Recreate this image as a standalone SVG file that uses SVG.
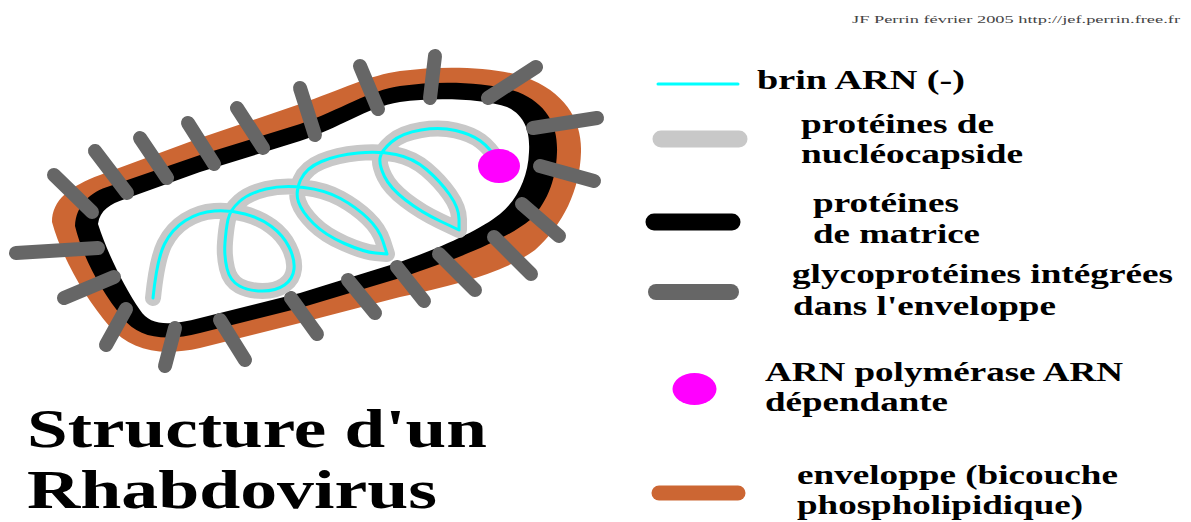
<svg xmlns="http://www.w3.org/2000/svg" xmlns:xlink="http://www.w3.org/1999/xlink" width="1191" height="522" viewBox="0 0 1191 522">
  <style>
    .env { fill: #cc6633; }
    .mat { fill: #000000; }
    .core { fill: #ffffff; }
    .spike { stroke: #666666; stroke-width: 14; stroke-linecap: round; fill: none; }
    .caps { stroke: #c8c8c8; stroke-width: 16; stroke-linecap: round; stroke-linejoin: round; fill: none; }
    .rna { stroke: #00ffff; stroke-width: 3; stroke-linecap: round; stroke-linejoin: round; fill: none; }
    .pol { fill: #ff00ff; }
    .key { stroke-linecap: round; fill: none; }
    .lbl { font-family: "Liberation Serif", "Times New Roman", serif; font-weight: bold; font-size: 28px; fill: #000000; }
    .title { font-family: "Liberation Serif", "Times New Roman", serif; font-weight: bold; font-size: 54px; fill: #000000; }
    .credit { font-family: "Liberation Serif", "Times New Roman", serif; font-size: 11px; fill: #444444; }
  </style>
  <defs>
    <!-- coiled nucleocapsid centre line -->
    <path id="coil" d="M153,298 Q157,259 164.5,244 Q172,229 185.5,220.5 Q199,212 214.5,211 Q230,210 245,214 Q260,218 271.5,226.5 Q283,235 289,247 Q295,259 294,269 Q293,279 284.5,285 Q276,291 262.5,291 Q249,291 239.5,286 Q230,281 227,268.5 Q224,256 225,242.5 Q226,229 228,219.5 Q230,210 239.5,201.5 Q249,193 266,189 Q283,185 304,187.5 Q325,190 340.5,198.5 Q356,207 367.5,218 Q379,229 383,241.5 L387,254 L375.5,253 Q364,252 344.5,243.5 Q325,235 313.5,223.5 Q302,212 298.5,202 Q295,192 300.5,180 Q306,168 321.5,161.5 Q337,155 358,153 Q379,151 396,154.5 Q413,158 426.5,169.5 Q440,181 449.5,194.5 Q459,208 459,219 L459,230 L440,221 Q421,212 405.5,200 Q390,188 384.5,176.5 Q379,165 380,158 Q381,151 391.5,142 Q402,133 421,130 Q440,127 455.5,130.5 Q471,134 480.5,141 Q490,148 498,161"/>
  </defs>

  <rect width="1191" height="522" fill="#ffffff"/>

  <!-- virion -->
  <g id="virion">
    <path id="envelope" class="env" d="M52,222 C52,200 70,186 100,175 L200,138 L300,104 C340,90 370,75 400,71 C445,65 495,67 525,77 C565,92 582,120 581,152 C580,190 563,225 535,250 C505,272 460,284 400,297 L300,323 L200,348 C160,357 130,350 110,327 C85,298 62,258 52,222 Z"/>
    <path id="matrix" class="mat" d="M75,226 C76,205 90,192 110,186 L200,155 L300,124 C340,110 370,90 400,86 C440,80 490,82 518,92 C547,104 558,125 557,152 C556,183 545,205 530,220 C505,240 460,258 400,278 L300,308 L200,333 C165,342 138,338 123,318 C100,290 82,255 75,226 Z"/>
    <path id="interior" class="core" d="M98,224 C100,210 110,204 125,199 L200,172 L300,141 C340,128 365,108 400,102 C435,97 485,99 507,107 C527,116 530,135 529,152 C528,178 517,200 500,214 C480,230 440,248 400,262 L300,293 L200,318 C170,326 150,326 140,310 C125,288 108,255 98,224 Z"/>
    <g id="glycoproteins" class="spike">
      <line x1="54" y1="175" x2="92" y2="212"/>
      <line x1="95" y1="151" x2="127" y2="193"/>
      <line x1="140" y1="138" x2="167" y2="178"/>
      <line x1="188" y1="123" x2="214" y2="164"/>
      <line x1="237" y1="108" x2="263" y2="148"/>
      <line x1="300" y1="88" x2="315" y2="135"/>
      <line x1="360" y1="66" x2="378" y2="109"/>
      <line x1="435" y1="56" x2="430" y2="98"/>
      <line x1="536" y1="67" x2="488" y2="98"/>
      <line x1="597" y1="118" x2="533" y2="128"/>
      <line x1="594" y1="181" x2="540" y2="166"/>
      <line x1="559" y1="236" x2="522" y2="204"/>
      <line x1="531" y1="274" x2="494" y2="237"/>
      <line x1="475" y1="290" x2="439" y2="254"/>
      <line x1="424" y1="301" x2="397" y2="267"/>
      <line x1="375" y1="313" x2="348" y2="280"/>
      <line x1="317" y1="334" x2="291" y2="298"/>
      <line x1="245" y1="360" x2="220" y2="320"/>
      <line x1="165" y1="366" x2="175" y2="328"/>
      <line x1="106" y1="345" x2="126" y2="309"/>
      <line x1="64" y1="298" x2="114" y2="277"/>
      <line x1="16" y1="253" x2="98" y2="248"/>
    </g>
    <g id="nucleocapsid">
      <use href="#coil" class="caps"/>
      <use href="#coil" class="rna"/>
    </g>
    <ellipse id="polymerase" class="pol" cx="499" cy="166" rx="21" ry="17"/>
  </g>

  <!-- title -->
  <g id="title">
    <text class="title" x="27" y="447" textLength="460" lengthAdjust="spacingAndGlyphs">Structure d'un</text>
    <text class="title" x="27" y="508" textLength="410" lengthAdjust="spacingAndGlyphs">Rhabdovirus</text>
  </g>

  <text id="credit" class="credit" x="852" y="23" textLength="328" lengthAdjust="spacingAndGlyphs">JF Perrin  février 2005 http://jef.perrin.free.fr</text>

  <!-- key -->
  <g id="key-rna">
    <line class="key" x1="658" y1="84" x2="738" y2="84" stroke="#00ffff" stroke-width="3"/>
    <text class="lbl" x="757" y="89" textLength="208" lengthAdjust="spacingAndGlyphs">brin ARN (-)</text>
  </g>
  <g id="key-nucleocapsid">
    <line class="key" x1="661" y1="139" x2="739" y2="139" stroke="#c8c8c8" stroke-width="17"/>
    <text class="lbl" x="801" y="133" textLength="193" lengthAdjust="spacingAndGlyphs">protéines de</text>
    <text class="lbl" x="801" y="163" textLength="222" lengthAdjust="spacingAndGlyphs">nucléocapside</text>
  </g>
  <g id="key-matrix">
    <line class="key" x1="654" y1="222" x2="732" y2="222" stroke="#000000" stroke-width="17"/>
    <text class="lbl" x="813" y="212" textLength="146" lengthAdjust="spacingAndGlyphs">protéines</text>
    <text class="lbl" x="813" y="243" textLength="167" lengthAdjust="spacingAndGlyphs">de matrice</text>
  </g>
  <g id="key-glycoprotein">
    <line class="key" x1="656" y1="292" x2="731" y2="292" stroke="#666666" stroke-width="16"/>
    <text class="lbl" x="792" y="283" textLength="381" lengthAdjust="spacingAndGlyphs">glycoprotéines intégrées</text>
    <text class="lbl" x="793" y="315" textLength="263" lengthAdjust="spacingAndGlyphs">dans l'enveloppe</text>
  </g>
  <g id="key-polymerase">
    <ellipse class="pol" cx="694.5" cy="389" rx="22" ry="16"/>
    <text class="lbl" x="765" y="381" textLength="358" lengthAdjust="spacingAndGlyphs">ARN polymérase ARN</text>
    <text class="lbl" x="765" y="411" textLength="183" lengthAdjust="spacingAndGlyphs">dépendante</text>
  </g>
  <g id="key-envelope">
    <line class="key" x1="659" y1="493" x2="738" y2="493" stroke="#cc6633" stroke-width="15"/>
    <text class="lbl" x="797" y="484" textLength="321" lengthAdjust="spacingAndGlyphs">enveloppe (bicouche</text>
    <text class="lbl" x="797" y="514" textLength="286" lengthAdjust="spacingAndGlyphs">phospholipidique)</text>
  </g>
</svg>
